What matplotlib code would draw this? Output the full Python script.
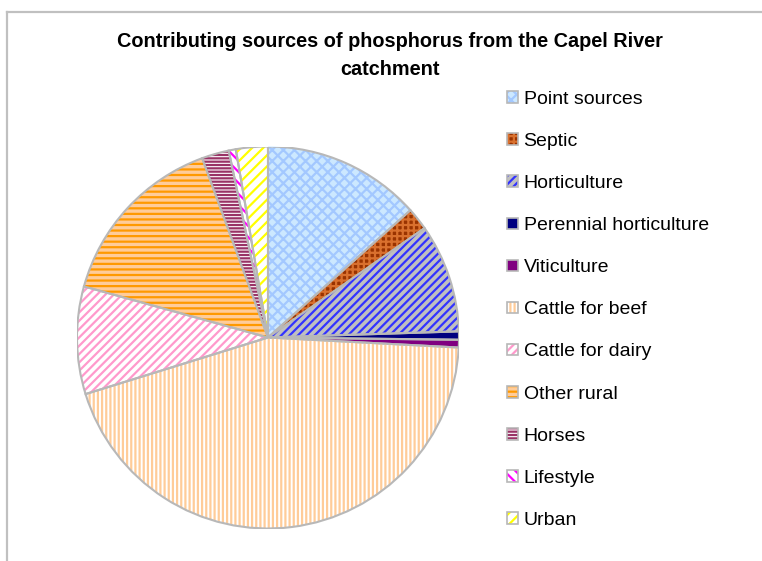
import matplotlib
matplotlib.use("Agg")
import matplotlib.pyplot as plt
from matplotlib.patches import Wedge, Patch
from matplotlib.lines import Line2D
from matplotlib.legend_handler import HandlerTuple

plt.rcParams['font.family'] = ['Liberation Sans', 'DejaVu Sans']
plt.rcParams['hatch.linewidth'] = 1.6

categories = ["Point sources", "Septic", "Horticulture", "Perennial horticulture",
              "Viticulture", "Cattle for beef", "Cattle for dairy", "Other rural",
              "Horses", "Lifestyle", "Urban"]
values = [13.4, 1.9, 9.2, 0.7, 0.65, 44.4, 9.1, 15.1, 2.3, 0.6, 2.7]

face_colors = ["#CCE8FF", "#993300", "#C0C0C0", "#000080", "#800080",
               "#FFFFFF", "#FFFFFF", "#FFCC99", "#FFFFFF", "#FFFFFF", "#FFFFFF"]
hatch_colors = ["#A3C8FF", "#D9702E", "#3333FF", None, None,
                "#FFCC99", "#FF99CC", "#FF9900", "#993366", "#FF00FF", "#FFFF00"]
hatches = ["xxx", "+++", "////", None, None,
           "||||", "////", "---", "-----", "\\\\\\", "///"]
edge_gray = "#B8B8B8"

W, H = 762, 561
fig = plt.figure(figsize=(W / 100, H / 100), dpi=100)

cx, cy, r = 268, 337.5, 191
ax = fig.add_axes([(cx - r) / W, (H - cy - r) / H, 2 * r / W, 2 * r / H])
wedges, _ = ax.pie(values, colors=face_colors, startangle=90, counterclock=False,
                   wedgeprops=dict(edgecolor="none", linewidth=0))
ax.set_xlim(-1, 1)
ax.set_ylim(-1, 1)
ax.set_aspect("equal")
ax.axis("off")

handles = []
for w, fc, hc, hp in zip(wedges, face_colors, hatch_colors, hatches):
    parts = [Patch(facecolor=fc, edgecolor="none")]
    if hp:
        hw = Wedge(w.center, w.r, w.theta1, w.theta2, fill=False, hatch=hp,
                   edgecolor=hc, linewidth=0)
        ax.add_patch(hw)
        parts.append(Patch(facecolor="none", hatch=hp, edgecolor=hc, linewidth=0))
    ow = Wedge(w.center, w.r, w.theta1, w.theta2, fill=False,
               edgecolor=edge_gray, linewidth=1.5)
    ax.add_patch(ow)
    parts.append(Patch(facecolor="none", edgecolor=edge_gray, linewidth=1.2))
    handles.append(tuple(parts))

leg = fig.legend(handles, categories, handler_map={tuple: HandlerTuple(ndivide=1, pad=0)},
                 loc="upper left", bbox_to_anchor=(507 / W, 1 - 91 / H),
                 frameon=False, fontsize=14, handlelength=0.55, handleheight=0.55,
                 handletextpad=0.3, labelspacing=1.29, borderpad=0, borderaxespad=0)

fig.text(390 / W, 1 - 55.5 / H,
         "Contributing sources of phosphorus from the Capel River\ncatchment",
         ha="center", va="center", fontsize=14.3, fontweight="bold",
         linespacing=1.6)

fig.add_artist(Line2D([7 / W, 1], [1 - 12 / H, 1 - 12 / H], color="#C0C0C0", lw=1.6,
                      transform=fig.transFigure))
fig.add_artist(Line2D([7 / W, 7 / W], [0, 1 - 12 / H], color="#C0C0C0", lw=1.6,
                      transform=fig.transFigure))

fig.savefig("out.png", dpi=100)
